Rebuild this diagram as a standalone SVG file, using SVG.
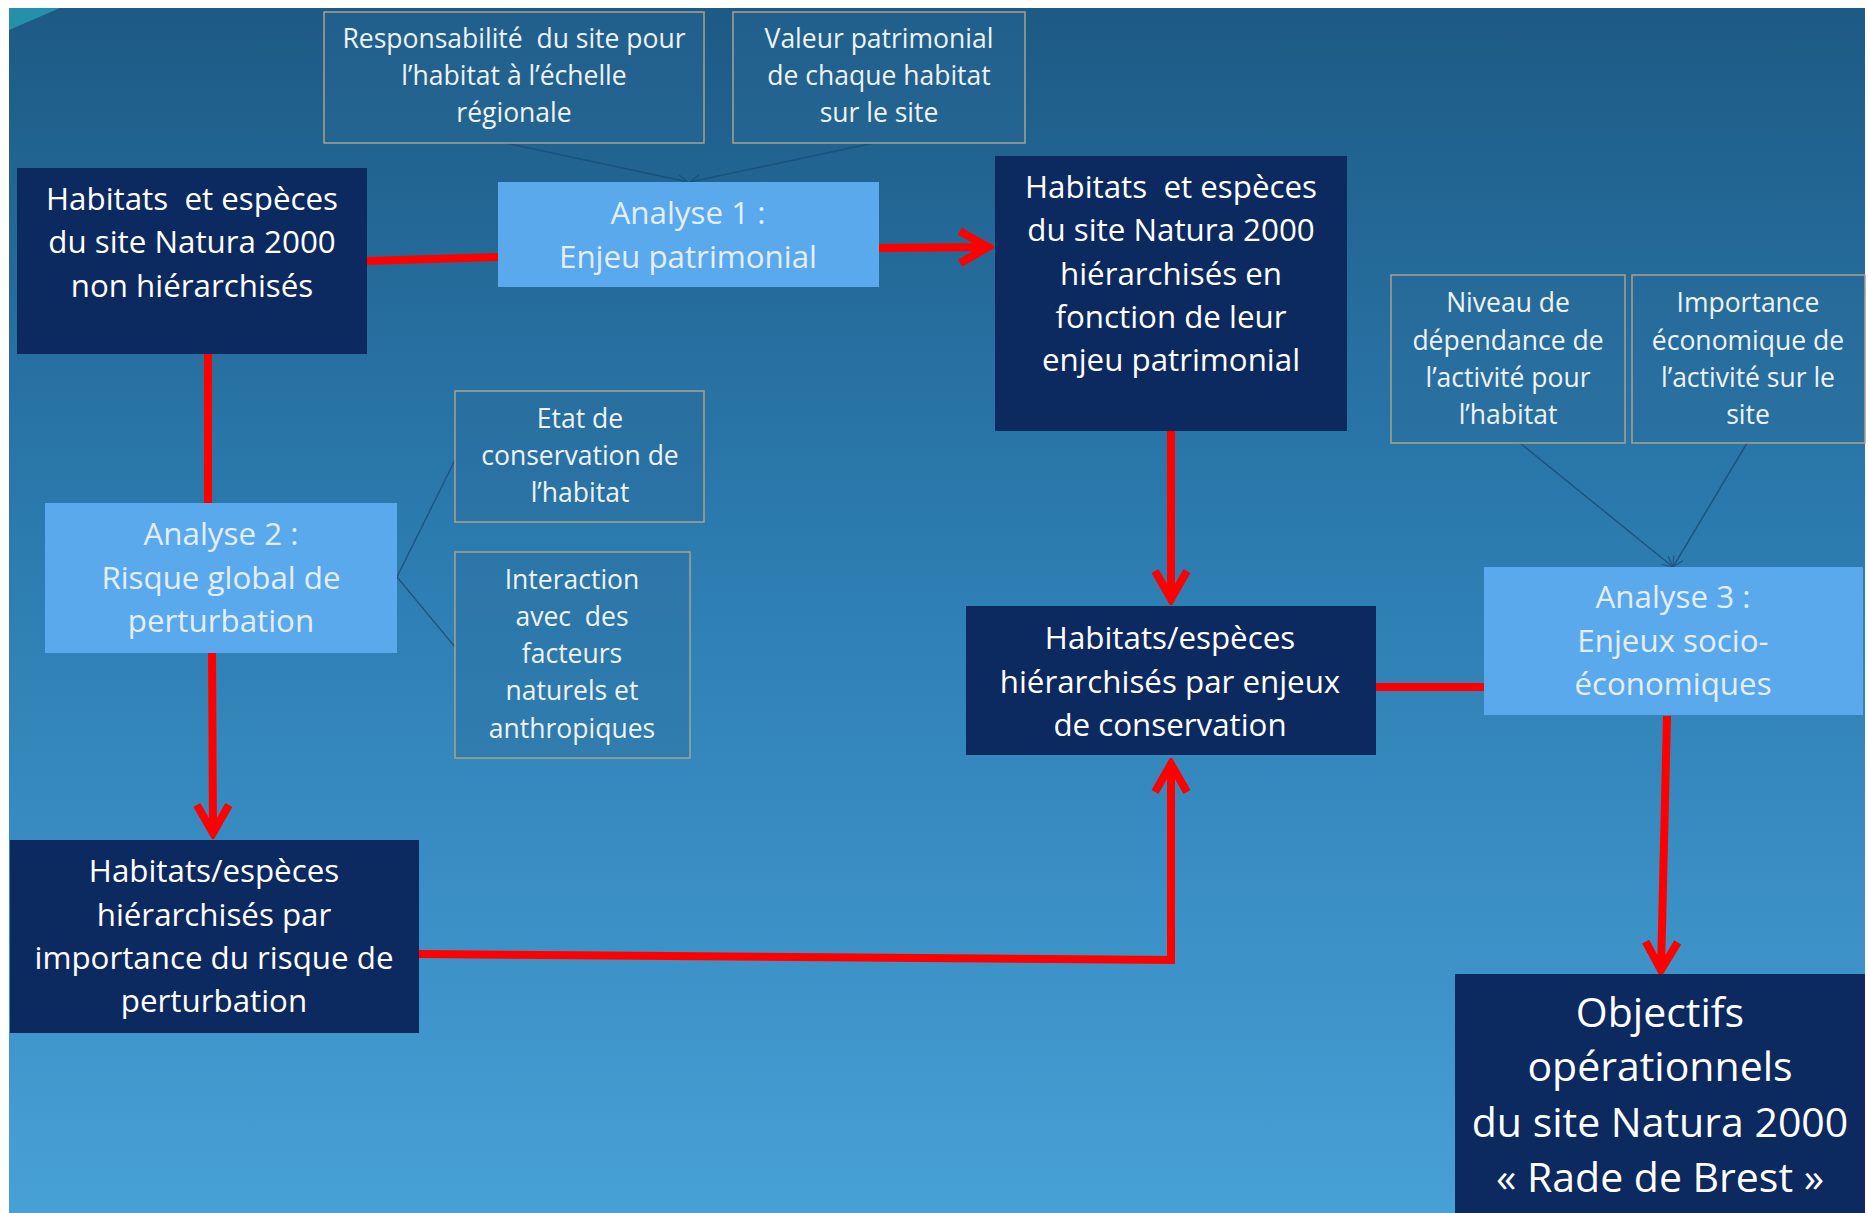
<svg xmlns="http://www.w3.org/2000/svg" width="1868" height="1213" viewBox="0 0 1868 1213">
<defs>
<linearGradient id="bg" x1="0" y1="0" x2="0" y2="1">
<stop offset="0" stop-color="#1d5a85"/>
<stop offset="0.45" stop-color="#2c7cb0"/>
<stop offset="1" stop-color="#47a0d6"/>
</linearGradient>
<marker id="ra" viewBox="0 0 20 20" refX="17" refY="10" markerWidth="5" markerHeight="5" orient="auto" markerUnits="strokeWidth">
<polyline points="3,2 17,10 3,18" fill="none" stroke="#ff0000" stroke-width="4"/>
</marker>
<marker id="da" viewBox="0 0 20 20" refX="18" refY="10" markerWidth="10" markerHeight="10" orient="auto" markerUnits="strokeWidth">
<polyline points="4,3 18,10 4,17" fill="none" stroke="#1b4d75" stroke-width="1.5"/>
</marker>
</defs>
<style>
.dark{fill:#0c2a5f}
.light{fill:#5aa9ec}
.info{fill:#2a6a98;fill-opacity:0.35;stroke:#a8a28c;stroke-width:1.5}
text{font-family:"Open Sans",Lato,"Liberation Sans",sans-serif;fill:#ffffff;text-anchor:middle;white-space:pre}
.t30{font-size:31.3px}
.t26{font-size:26.5px;fill:#eef3f8}
.tl{font-size:31.3px;fill:#e4eefb}
.t40{font-size:41px}
.red{fill:none;stroke:#ff0000;stroke-width:8}
.thin{fill:none;stroke:#1b4d75;stroke-width:1.5;opacity:0.8}
</style>
<rect x="0" y="0" width="1868" height="1213" fill="#ffffff"/>
<rect x="9" y="8" width="1856" height="1205" fill="url(#bg)"/>
<polygon points="9,8 60,8 9,30" fill="#2aa7b8" opacity="0.7"/>

<g id="connectors">
<polyline class="red" points="367,261 498,257"/>
<polyline class="red" points="879,248 988,247" marker-end="url(#ra)"/>
<polyline class="red" points="208,354 208,503"/>
<polyline class="red" points="212,653 213,833" marker-end="url(#ra)"/>
<polyline class="red" points="1171,431 1171,599" marker-end="url(#ra)"/>
<polyline class="red" points="419,954 1171,960 1171,764" marker-end="url(#ra)"/>
<polyline class="red" points="1375,687 1484,687"/>
<polyline class="red" points="1667,716 1661,970" marker-end="url(#ra)"/>
<polyline class="thin" points="506,143 688,182" marker-end="url(#da)"/>
<polyline class="thin" points="874,143 690,182" marker-end="url(#da)"/>
<polyline class="thin" points="397,577 455,460"/>
<polyline class="thin" points="397,577 455,647"/>
<polyline class="thin" points="1520,443 1673,567" marker-end="url(#da)"/>
<polyline class="thin" points="1747,443 1673,567" marker-end="url(#da)"/>
</g>

<g id="n1">
<rect class="dark" x="17" y="168" width="350" height="186"/>
<text class="t30" x="192" y="210" xml:space="preserve">Habitats  et espèces</text>
<text class="t30" x="192" y="253">du site Natura 2000</text>
<text class="t30" x="192" y="297">non hiérarchisés</text>
</g>

<g id="analyse1">
<rect class="light" x="498" y="182" width="381" height="105"/>
<text class="tl" x="688" y="224">Analyse 1 :</text>
<text class="tl" x="688" y="268">Enjeu patrimonial</text>
</g>

<g id="resp">
<rect class="info" x="324" y="12" width="380" height="131"/>
<text class="t26" x="514" y="48" xml:space="preserve">Responsabilité  du site pour</text>
<text class="t26" x="514" y="85">l’habitat à l’échelle</text>
<text class="t26" x="514" y="122">régionale</text>
</g>

<g id="valeur">
<rect class="info" x="733" y="12" width="292" height="131"/>
<text class="t26" x="879" y="48">Valeur patrimonial</text>
<text class="t26" x="879" y="85">de chaque habitat</text>
<text class="t26" x="879" y="122">sur le site</text>
</g>

<g id="n5">
<rect class="dark" x="995" y="156" width="352" height="275"/>
<text class="t30" x="1171" y="198" xml:space="preserve">Habitats  et espèces</text>
<text class="t30" x="1171" y="241">du site Natura 2000</text>
<text class="t30" x="1171" y="285">hiérarchisés en</text>
<text class="t30" x="1171" y="328">fonction de leur</text>
<text class="t30" x="1171" y="371">enjeu patrimonial</text>
</g>

<g id="niveau">
<rect class="info" x="1391" y="275" width="234" height="168"/>
<text class="t26" x="1508" y="312">Niveau de</text>
<text class="t26" x="1508" y="350">dépendance de</text>
<text class="t26" x="1508" y="387">l’activité pour</text>
<text class="t26" x="1508" y="424">l’habitat</text>
</g>

<g id="importance">
<rect class="info" x="1632" y="275" width="233" height="168"/>
<text class="t26" x="1748" y="312">Importance</text>
<text class="t26" x="1748" y="350">économique de</text>
<text class="t26" x="1748" y="387">l’activité sur le</text>
<text class="t26" x="1748" y="424">site</text>
</g>

<g id="etat">
<rect class="info" x="455" y="391" width="249" height="131"/>
<text class="t26" x="580" y="428">Etat de</text>
<text class="t26" x="580" y="465">conservation de</text>
<text class="t26" x="580" y="502">l’habitat</text>
</g>

<g id="interaction">
<rect class="info" x="455" y="552" width="235" height="206"/>
<text class="t26" x="572" y="589">Interaction</text>
<text class="t26" x="572" y="626" xml:space="preserve">avec  des</text>
<text class="t26" x="572" y="663">facteurs</text>
<text class="t26" x="572" y="700">naturels et</text>
<text class="t26" x="572" y="738">anthropiques</text>
</g>

<g id="analyse2">
<rect class="light" x="45" y="503" width="352" height="150"/>
<text class="tl" x="221" y="545">Analyse 2 :</text>
<text class="tl" x="221" y="589">Risque global de</text>
<text class="tl" x="221" y="632">perturbation</text>
</g>

<g id="n9">
<rect class="dark" x="966" y="606" width="410" height="149"/>
<text class="t30" x="1170" y="649">Habitats/espèces</text>
<text class="t30" x="1170" y="693">hiérarchisés par enjeux</text>
<text class="t30" x="1170" y="736">de conservation</text>
</g>

<g id="analyse3">
<rect class="light" x="1484" y="567" width="379" height="148"/>
<text class="tl" x="1673" y="608">Analyse 3 :</text>
<text class="tl" x="1673" y="652">Enjeux socio-</text>
<text class="tl" x="1673" y="695">économiques</text>
</g>

<g id="n13">
<rect class="dark" x="10" y="840" width="409" height="193"/>
<text class="t30" x="214" y="882">Habitats/espèces</text>
<text class="t30" x="214" y="926">hiérarchisés par</text>
<text class="t30" x="214" y="969">importance du risque de</text>
<text class="t30" x="214" y="1012">perturbation</text>
</g>

<g id="objectifs">
<rect class="dark" x="1455" y="974" width="410" height="239"/>
<text class="t40" x="1660" y="1027">Objectifs</text>
<text class="t40" x="1660" y="1081">opérationnels</text>
<text class="t40" x="1660" y="1137">du site Natura 2000</text>
<text class="t40" x="1660" y="1192">« Rade de Brest »</text>
</g>
</svg>
